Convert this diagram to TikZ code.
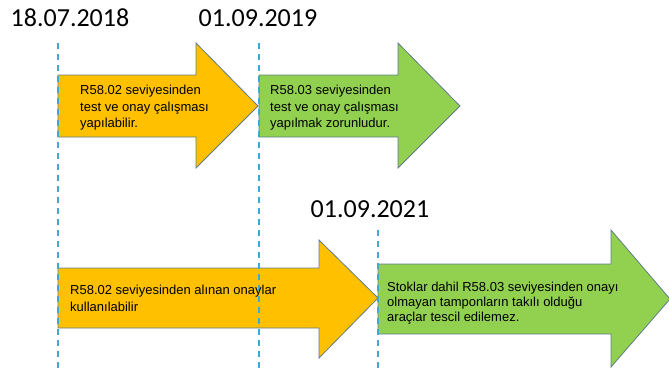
\documentclass[tikz,border=0pt]{standalone}
\usepackage{fontspec}
\setmainfont{Liberation Sans}
\newfontfamily\datefont{Carlito}
\definecolor{arrOrange}{RGB}{255,192,0}
\definecolor{arrGreen}{RGB}{146,208,80}
\definecolor{arrEdge}{RGB}{96,124,140}
\definecolor{dashBlue}{RGB}{60,170,210}
\begin{document}
\begin{tikzpicture}[x=1pt,y=-1pt,
  arrowshape/.style={draw=arrEdge,line width=0.8pt,line join=miter},
  datelabel/.style={font=\datefont\fontsize{26}{29}\selectfont,inner sep=0pt,anchor=base},
  arrowtext/.style={font=\fontsize{13}{16.5}\selectfont,align=left,inner sep=0pt,anchor=north west},
  guide/.style={draw=dashBlue,line width=1.1pt,dash pattern=on 6pt off 5pt}]
\useasboundingbox (0,0) rectangle (669,372);
% arrows
\path[arrowshape,fill=arrOrange] (58,75) -- (196,75) -- (196,43) -- (258,106) -- (196,168) -- (196,137) -- (58,137) -- cycle;
\path[arrowshape,fill=arrGreen] (259,75) -- (398,75) -- (398,43) -- (460,106) -- (398,168) -- (398,137) -- (259,137) -- cycle;
\path[arrowshape,fill=arrOrange] (58,268) -- (319,268) -- (319,240) -- (378,298) -- (319,358) -- (319,328) -- (58,328) -- cycle;
\path[arrowshape,fill=arrGreen] (378,264) -- (611,264) -- (611,230) -- (670,299) -- (611,367) -- (611,334) -- (378,334) -- cycle;
% guides
\coordinate (g1t) at (58,43); \coordinate (g1b) at (58,372);
\coordinate (g2t) at (259,43); \coordinate (g2b) at (259,372);
\coordinate (g3t) at (378,230); \coordinate (g3b) at (378,372);
\draw[guide] (g1t) -- (g1b);
\draw[guide] (g2t) -- (g2b);
\draw[guide] (g3t) -- (g3b);
% dates
\node[datelabel] (d1) at (70,27) {18.07.2018};
\node[datelabel] (d2) at (258,27) {01.09.2019};
\node[datelabel] (d3) at (370,217) {01.09.2021};
% texts
\node[arrowtext] (t1) at (80,85) {R58.02 seviyesinden\\test ve onay çalışması\\yapılabilir.};
\node[arrowtext] (t2) at (270,85) {R58.03 seviyesinden\\test ve onay çalışması\\yapılmak zorunludur.};
\node[arrowtext] (t3) at (70,285) {R58.02 seviyesinden alınan onaylar\\kullanılabilir};
\node[arrowtext,font=\fontsize{13}{15}\selectfont] (t4) at (387,282) {Stoklar dahil R58.03 seviyesinden onayı\\olmayan tamponların takılı olduğu\\araçlar tescil edilemez.};
\end{tikzpicture}
\end{document}
